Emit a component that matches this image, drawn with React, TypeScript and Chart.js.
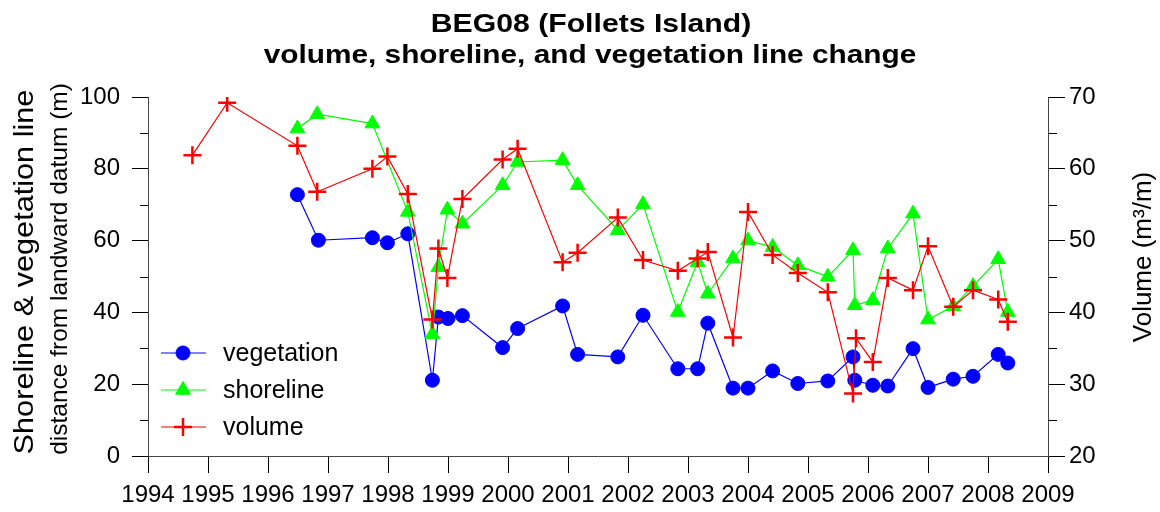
import React, { useEffect, useRef } from 'react';
import Chart from 'chart.js/auto';
import { drawPoint } from 'chart.js/helpers';

// survey dates (decimal years) and values
const vegYears = [
  1996.49, 1996.84, 1997.74, 1997.99, 1998.33, 1998.74, 1998.84, 1999.0, 1999.24,
  1999.91, 2000.16, 2000.91, 2001.16, 2001.83, 2002.25, 2002.83, 2003.16, 2003.33,
  2003.75, 2004.0, 2004.41, 2004.83, 2005.33, 2005.75, 2005.78, 2006.08, 2006.33,
  2006.75, 2007.0, 2007.42, 2007.75, 2008.17, 2008.33,
];
const vegValues = [
  72.8, 60.1, 60.8, 59.4, 61.9, 21.1, 38.7, 38.3, 39.1,
  30.2, 35.5, 41.8, 28.3, 27.6, 39.2, 24.3, 24.3, 37.0,
  18.9, 18.9, 23.7, 20.2, 20.9, 27.6, 21.1, 19.7, 19.5,
  29.9, 19.1, 21.4, 22.2, 28.3, 25.9,
];

const shoreYears = [
  1996.49, 1996.82, 1997.74, 1998.33, 1998.74, 1998.84, 1998.99, 1999.24,
  1999.91, 2000.16, 2000.91, 2001.16, 2001.83, 2002.25, 2002.83, 2003.16, 2003.33,
  2003.75, 2004.0, 2004.41, 2004.83, 2005.33, 2005.75, 2005.78, 2006.08, 2006.33,
  2006.75, 2007.0, 2007.42, 2007.75, 2008.17, 2008.33,
];
const shoreValues = [
  91.2, 95.2, 92.6, 68.0, 33.9, 52.6, 68.6, 64.7,
  75.4, 81.9, 82.4, 75.4, 62.9, 70.1, 40.1, 54.0, 45.2,
  55.0, 60.0, 58.2, 53.1, 49.9, 57.3, 42.0, 43.4, 57.8,
  67.5, 38.0, 41.7, 47.3, 54.8, 40.1,
];

const volYears = [
  1994.74, 1995.32, 1996.49, 1996.82, 1997.74, 1997.99, 1998.33, 1998.74, 1998.84,
  1998.99, 1999.24, 1999.91, 2000.16, 2000.91, 2001.16, 2001.83, 2002.25, 2002.83,
  2003.16, 2003.33, 2003.75, 2004.0, 2004.41, 2004.83, 2005.33, 2005.75, 2005.8,
  2006.08, 2006.33, 2006.75, 2007.0, 2007.42, 2007.75, 2008.17, 2008.33,
];
const volValues = [
  61.9, 69.2, 63.2, 56.8, 60.0, 61.7, 56.5, 39.0, 48.9,
  44.8, 55.8, 61.3, 62.8, 47.0, 48.3, 53.2, 47.3, 45.8,
  47.5, 48.4, 36.5, 54.0, 48.0, 45.5, 42.8, 28.7, 36.4,
  33.1, 44.8, 43.1, 49.2, 40.8, 43.1, 41.8, 38.7,
];

const yearTicks = [1994, 1995, 1996, 1997, 1998, 1999, 2000, 2001, 2002, 2003, 2004, 2005, 2006, 2007, 2008, 2009];
const distTicks = [0, 20, 40, 60, 80, 100];
const distMinor = [10, 30, 50, 70, 90];
const volTicks = [20, 30, 40, 50, 60, 70];
const volMinor = [25, 35, 45, 55, 65];

const titleLines = ['BEG08 (Follets Island)', 'volume, shoreline, and vegetation line change'];
const leftTitle = 'Shoreline & vegetation line';
const leftSubtitle = 'distance from landward datum (m)';
const rightTitle = 'Volume (m³/m)';

const FONT = '"Liberation Sans", Arial, Helvetica, sans-serif';

const series = [
  { label: 'vegetation', color: '#0000ff', style: 'circle', radius: 7, border: 1 },
  { label: 'shoreline', color: '#00ff00', style: 'triangle', radius: 8.5, border: 1 },
  { label: 'volume', color: '#ff0000', style: 'cross', radius: 9, border: 2.5 },
];

const toPoints = (xs: number[], ys: number[]) => xs.map((x, i) => ({ x, y: ys[i] }));

const overlay = {
  id: 'overlay',
  afterDraw: (chart: any) => {
    const { ctx, scales } = chart;
    const yl = scales.y;
    const yr = scales.y1;
    ctx.save();

    // minor ticks
    ctx.strokeStyle = '#000';
    ctx.lineWidth = 1;
    distMinor.forEach((v) => {
      const py = Math.round(yl.getPixelForValue(v)) + 0.5;
      ctx.beginPath();
      ctx.moveTo(yl.right - 8, py);
      ctx.lineTo(yl.right, py);
      ctx.stroke();
    });
    volMinor.forEach((v) => {
      const py = Math.round(yr.getPixelForValue(v)) + 0.5;
      ctx.beginPath();
      ctx.moveTo(yr.left, py);
      ctx.lineTo(yr.left + 9, py);
      ctx.stroke();
    });

    // text helper: the original lettering runs a little wide, so allow a horizontal stretch
    const text = (str: string, x: number, y: number, font: string, rot: number, stretch: number) => {
      ctx.save();
      ctx.translate(x, y);
      ctx.rotate(rot);
      ctx.scale(stretch, 1);
      ctx.font = font;
      ctx.fillText(str, 0, 0);
      ctx.restore();
    };

    ctx.fillStyle = '#000';
    ctx.textAlign = 'center';
    ctx.textBaseline = 'alphabetic';
    text(titleLines[0], 591, 32, `bold 26.5px ${FONT}`, 0, 1.14);
    text(titleLines[1], 590, 63, `bold 26.5px ${FONT}`, 0, 1.125);

    text(leftTitle, 33, 272, `28px ${FONT}`, -Math.PI / 2, 1.095);
    text(leftSubtitle, 67, 269, `24.5px ${FONT}`, -Math.PI / 2, 1.0);
    text(rightTitle, 1151, 257, `26px ${FONT}`, -Math.PI / 2, 1.0);

    // legend
    const legendY = [353, 390, 427];
    ctx.textAlign = 'left';
    ctx.textBaseline = 'middle';
    ctx.font = `25px ${FONT}`;
    series.forEach((s, i) => {
      const y = legendY[i];
      ctx.strokeStyle = s.color;
      ctx.fillStyle = s.color;
      ctx.lineWidth = 1.2;
      ctx.beginPath();
      ctx.moveTo(161, y);
      ctx.lineTo(206, y);
      ctx.stroke();
      ctx.lineWidth = s.border;
      drawPoint(ctx, { pointStyle: s.style, radius: s.radius, borderWidth: s.border, rotation: 0 } as any, 183, y);
      ctx.fillStyle = '#000';
      ctx.fillText(s.label, 223, y + 1);
    });

    ctx.restore();
  },
};

const BeachProfileChart = () => {
  const chartRef = useRef<HTMLCanvasElement>(null);
  const chartInstance = useRef<Chart | null>(null);

  useEffect(() => {
    document.body.style.margin = '0';
    if (chartInstance.current) {
      chartInstance.current.destroy();
    }

    const ctx = chartRef.current?.getContext('2d');
    if (!ctx) return;

    const values = [
      toPoints(vegYears, vegValues),
      toPoints(shoreYears, shoreValues),
      toPoints(volYears, volValues),
    ];

    chartInstance.current = new Chart(ctx, {
      type: 'line',
      data: {
        datasets: series.map((s, i) => ({
          label: s.label,
          data: values[i],
          yAxisID: i === 2 ? 'y1' : 'y',
          borderColor: s.color,
          backgroundColor: s.color,
          borderWidth: 1.2,
          pointStyle: s.style as any,
          pointRadius: s.radius,
          pointBorderWidth: s.border,
          pointBorderColor: s.color,
          pointBackgroundColor: s.color,
          fill: false,
          tension: 0,
          order: 3 - i,
        })),
      },
      options: {
        animation: false,
        responsive: true,
        maintainAspectRatio: false,
        events: [],
        layout: { padding: { top: 97, left: 0, right: 0, bottom: 0 } },
        plugins: {
          legend: { display: false },
          tooltip: { enabled: false },
        },
        scales: {
          x: {
            type: 'linear',
            position: 'bottom',
            min: 1994,
            max: 2009,
            afterBuildTicks: (scale: any) => {
              scale.ticks = yearTicks.map((v) => ({ value: v }));
            },
            afterFit: (scale: any) => {
              scale.height = 56;
            },
            grid: { drawOnChartArea: false, drawTicks: true, tickLength: 17, tickColor: '#000' },
            border: { display: true, color: '#444', width: 1 },
            ticks: {
              color: '#000',
              font: { family: FONT, size: 24 },
              padding: 8,
              maxRotation: 0,
              autoSkip: false,
              callback: (v: any) => String(v),
            },
          },
          y: {
            type: 'linear',
            position: 'left',
            min: 0,
            max: 100,
            afterBuildTicks: (scale: any) => {
              scale.ticks = distTicks.map((v) => ({ value: v }));
            },
            afterFit: (scale: any) => {
              scale.width = 148;
            },
            grid: { drawOnChartArea: false, drawTicks: true, tickLength: 16, tickColor: '#000' },
            border: { display: true, color: '#444', width: 1 },
            ticks: {
              color: '#000',
              font: { family: FONT, size: 24 },
              padding: 12,
              callback: (v: any) => String(v),
            },
          },
          y1: {
            type: 'linear',
            position: 'right',
            min: 20,
            max: 70,
            afterBuildTicks: (scale: any) => {
              scale.ticks = volTicks.map((v) => ({ value: v }));
            },
            afterFit: (scale: any) => {
              scale.width = 112;
            },
            grid: { drawOnChartArea: false, drawTicks: true, tickLength: 17, tickColor: '#000' },
            border: { display: true, color: '#444', width: 1 },
            ticks: {
              color: '#000',
              font: { family: FONT, size: 24 },
              padding: 4,
              callback: (v: any) => String(v),
            },
          },
        },
      },
      plugins: [overlay],
    });

    return () => {
      if (chartInstance.current) {
        chartInstance.current.destroy();
        chartInstance.current = null;
      }
    };
  }, []);

  return (
    <div style={{ width: 1160, height: 512, position: 'relative', background: '#fff' }}>
      <canvas ref={chartRef} />
    </div>
  );
};

export default function App() {
  return <BeachProfileChart />;
}
